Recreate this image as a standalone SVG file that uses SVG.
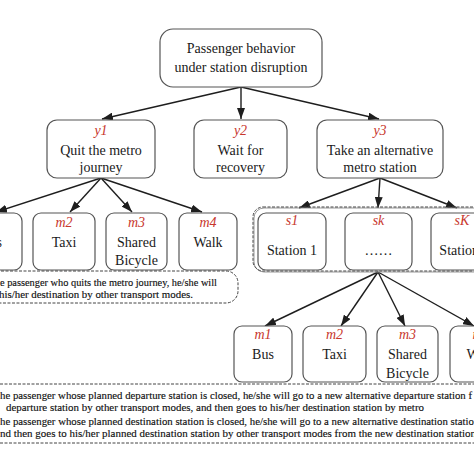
<svg xmlns="http://www.w3.org/2000/svg" width="474" height="474" viewBox="0 0 474 474">
<defs>
<marker id="ah" viewBox="0 0 11 8" refX="11" refY="4" markerWidth="11" markerHeight="8" markerUnits="userSpaceOnUse" orient="auto">
<path d="M0,0 L11,4 L0,8 Z" fill="#1e1e1e"/>
</marker>
<style>
.box{fill:#fff;stroke:#555;stroke-width:1.2}
.t{font-family:"Liberation Serif","Times New Roman",serif;font-size:14px;fill:#1a1a1a;text-anchor:middle}
.lab{font-family:"Liberation Serif","Times New Roman",serif;font-size:14px;font-style:italic;fill:#c8372d;text-anchor:middle}
.note{font-family:"Liberation Serif","Times New Roman",serif;font-size:11px;fill:#111;stroke:#111;stroke-width:0.15}
.con{stroke:#1e1e1e;stroke-width:1.4;fill:none;marker-end:url(#ah)}
.dash{fill:none;stroke:#444;stroke-width:1;stroke-dasharray:3 1.5}
</style>
</defs>
<rect width="474" height="474" fill="#fff"/>

<g id="connectors">
<line class="con" x1="241" y1="87" x2="102" y2="119"/>
<line class="con" x1="241" y1="87" x2="241" y2="119"/>
<line class="con" x1="241" y1="87" x2="379" y2="119"/>
<line class="con" x1="101" y1="178" x2="-4" y2="212"/>
<line class="con" x1="101" y1="178" x2="70" y2="212"/>
<line class="con" x1="101" y1="178" x2="132" y2="212"/>
<line class="con" x1="101" y1="178" x2="202" y2="212"/>
<line class="con" x1="380" y1="178" x2="299" y2="208"/>
<line class="con" x1="380" y1="178" x2="378" y2="208"/>
<line class="con" x1="380" y1="178" x2="457" y2="208"/>
<line class="con" x1="378" y1="272" x2="265" y2="326"/>
<line class="con" x1="378" y1="272" x2="341" y2="326"/>
<line class="con" x1="378" y1="272" x2="405" y2="326"/>
<line class="con" x1="378" y1="272" x2="474" y2="326"/>
</g>

<g id="root">
<rect class="box" x="160" y="29" width="162" height="58" rx="13"/>
<text class="t" x="241" y="53">Passenger behavior</text>
<text class="t" x="241" y="72">under station disruption</text>
</g>

<g id="y1">
<rect class="box" x="47" y="120" width="108" height="58" rx="10"/>
<text class="lab" x="101" y="135">y1</text>
<text class="t" x="101" y="155">Quit the metro</text>
<text class="t" x="101" y="172">journey</text>
</g>
<g id="y2">
<rect class="box" x="194" y="120" width="93" height="58" rx="10"/>
<text class="lab" x="240.5" y="135">y2</text>
<text class="t" x="240.5" y="155">Wait for</text>
<text class="t" x="240.5" y="172">recovery</text>
</g>
<g id="y3">
<rect class="box" x="317" y="120" width="126" height="58" rx="10"/>
<text class="lab" x="380" y="135">y3</text>
<text class="t" x="380" y="155">Take an alternative</text>
<text class="t" x="380" y="172">metro station</text>
</g>

<g id="m1a">
<rect class="box" x="-40" y="213" width="62" height="57" rx="8"/>
<text class="lab" x="-9" y="227">m1</text>
<text class="t" x="-9" y="247">Bus</text>
</g>
<g id="m2a">
<rect class="box" x="33" y="213" width="62" height="57" rx="8"/>
<text class="lab" x="64" y="227">m2</text>
<text class="t" x="64" y="247">Taxi</text>
</g>
<g id="m3a">
<rect class="box" x="106" y="213" width="61" height="57" rx="8"/>
<text class="lab" x="136.5" y="227">m3</text>
<text class="t" x="136.5" y="247">Shared</text>
<text class="t" x="136.5" y="265">Bicycle</text>
</g>
<g id="m4a">
<rect class="box" x="179" y="213" width="58" height="57" rx="8"/>
<text class="lab" x="208" y="227">m4</text>
<text class="t" x="208" y="247">Walk</text>
</g>

<g id="note1">
<rect class="dash" x="-20" y="271" width="258" height="32" rx="12"/>
<text class="note" x="0" y="286" textLength="217" lengthAdjust="spacingAndGlyphs">e passenger who quits the metro journey, he/she will</text>
<text class="note" x="-1" y="298" textLength="194" lengthAdjust="spacingAndGlyphs">his/her destination by other transport modes.</text>
</g>

<g id="stations">
<rect x="254" y="208" width="240" height="64" rx="10" fill="none" stroke="#999" stroke-width="1"/>
<rect class="dash" x="253" y="207" width="240" height="64" rx="10"/>
</g>
<g id="s1">
<rect class="box" x="258" y="213" width="68" height="57" rx="8"/>
<text class="lab" x="292" y="225">s1</text>
<text class="t" x="292" y="255">Station 1</text>
</g>
<g id="sk">
<rect class="box" x="345" y="213" width="67" height="57" rx="8"/>
<text class="lab" x="378.5" y="225">sk</text>
<text class="t" x="378.5" y="255">……</text>
</g>
<g id="sK">
<rect class="box" x="431" y="213" width="67" height="57" rx="8"/>
<text class="lab" x="462" y="225">sK</text>
<text class="t" x="466" y="255">Station K</text>
</g>

<g id="m1b">
<rect class="box" x="234" y="326" width="58" height="56" rx="8"/>
<text class="lab" x="263" y="339">m1</text>
<text class="t" x="263" y="359">Bus</text>
</g>
<g id="m2b">
<rect class="box" x="303" y="326" width="63" height="56" rx="8"/>
<text class="lab" x="334.5" y="339">m2</text>
<text class="t" x="334.5" y="359">Taxi</text>
</g>
<g id="m3b">
<rect class="box" x="377" y="326" width="61" height="56" rx="8"/>
<text class="lab" x="407.5" y="339">m3</text>
<text class="t" x="407.5" y="359">Shared</text>
<text class="t" x="407.5" y="378">Bicycle</text>
</g>
<g id="m4b">
<rect class="box" x="450" y="326" width="62" height="56" rx="8"/>
<text class="lab" x="481" y="339">m4</text>
<text class="t" x="481" y="359">Walk</text>
</g>

<g id="note2">
<line class="dash" x1="0" y1="384" x2="474" y2="384"/>
<line class="dash" x1="0" y1="443" x2="474" y2="443"/>
<text class="note" x="0" y="399" textLength="472" lengthAdjust="spacingAndGlyphs">he passenger whose planned departure station is closed, he/she will go to a new alternative departure station f</text>
<text class="note" x="6" y="411" textLength="418" lengthAdjust="spacingAndGlyphs">departure station by other transport modes, and then goes to his/her destination station by metro</text>
<text class="note" x="0" y="425" textLength="474" lengthAdjust="spacingAndGlyphs">he passenger whose planned destination station is closed, he/she will go to a new alternative destination statio</text>
<text class="note" x="0" y="437" textLength="476" lengthAdjust="spacingAndGlyphs">nd then goes to his/her planned destination station by other transport modes from the new destination station</text>
</g>
</svg>
